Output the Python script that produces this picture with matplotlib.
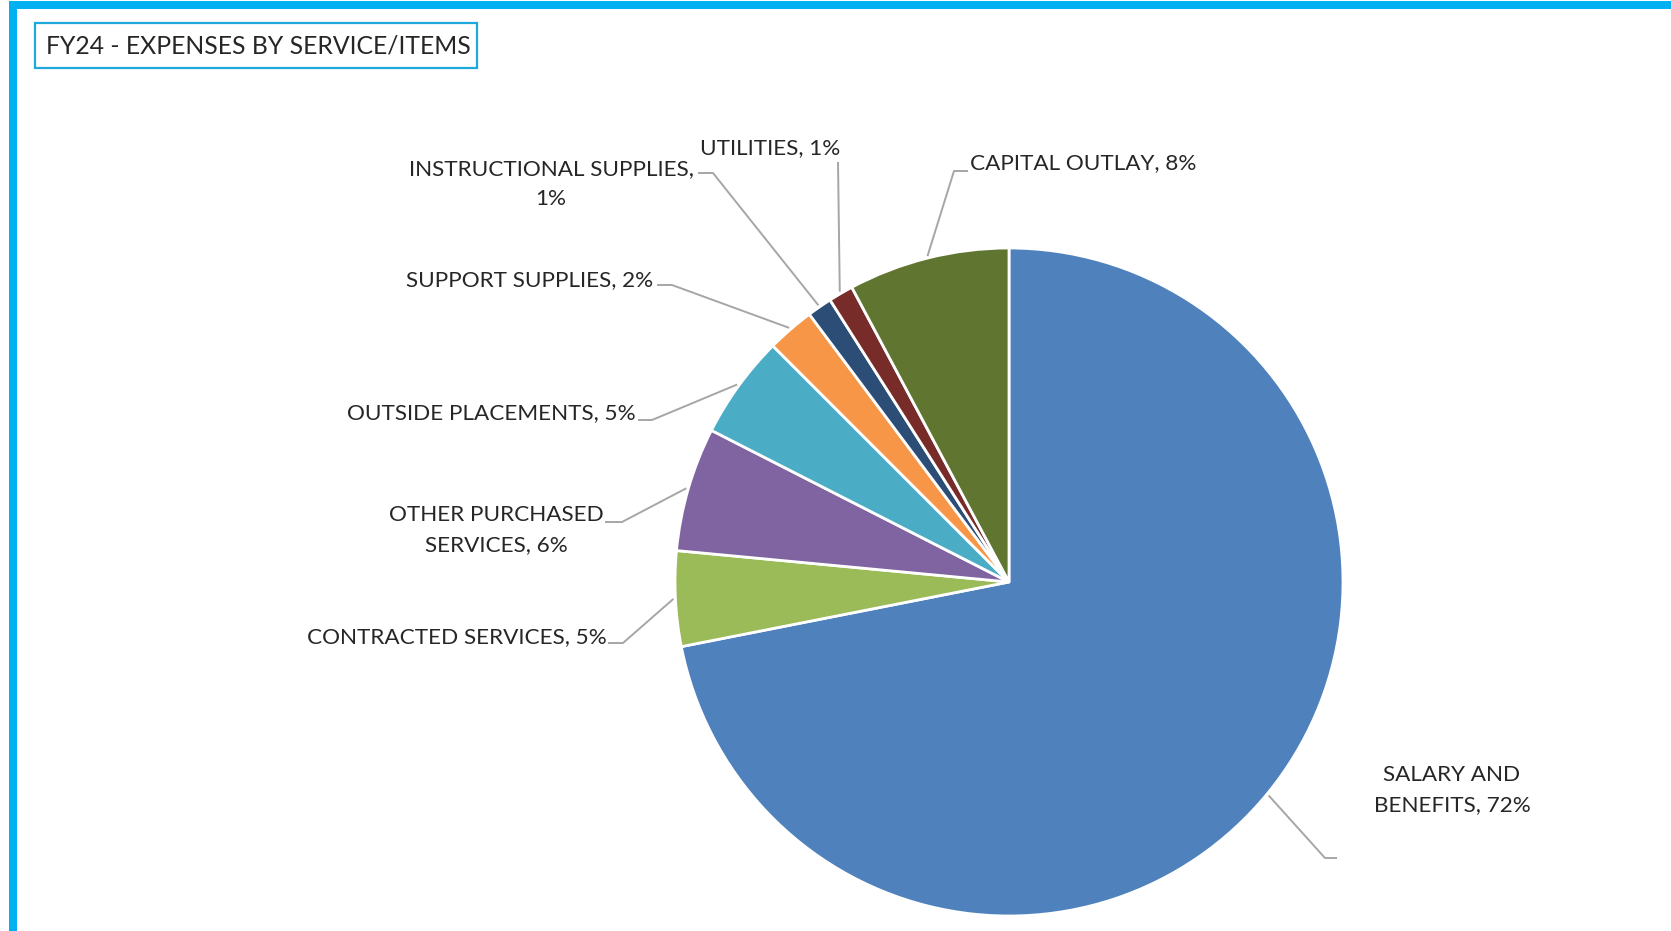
import numpy as np
import matplotlib
matplotlib.use("Agg")
import matplotlib.pyplot as plt
from matplotlib.patches import Rectangle

# ---------------- data ----------------
categories = ["SALARY AND\nBENEFITS", "CONTRACTED SERVICES", "OTHER PURCHASED\nSERVICES",
              "OUTSIDE PLACEMENTS", "SUPPORT SUPPLIES", "INSTRUCTIONAL SUPPLIES,\n",
              "UTILITIES", "CAPITAL OUTLAY"]
shares = [71.9, 4.6, 6.0, 5.0, 2.3, 1.2, 1.2, 7.8]
colors = ["#4F81BD", "#9BBB59", "#8064A2", "#4BACC6", "#F79646", "#2C4D75", "#772C2A", "#5F7530"]
title = "FY24 - EXPENSES BY SERVICE/ITEMS"

# ---------------- layout (pixel space, y measured downward) ----------------
W, H = 1671, 931
CX, CY, R = 1009, 582, 334
FONT = "Lato"
FS = 16.2
TXT = "#262626"
LEAD = "#A6A6A6"

def Y(y):
    return H - y

fig = plt.figure(figsize=(W / 100, H / 100), dpi=100)
fig.patch.set_facecolor("white")
ax = fig.add_axes([0, 0, 1, 1])

wedges, _ = ax.pie(shares, colors=colors, startangle=90, counterclock=False,
                   center=(CX, Y(CY)), radius=R,
                   wedgeprops=dict(edgecolor="white", linewidth=2.0))
ax.set_xlim(0, W)
ax.set_ylim(0, H)
ax.set_aspect("equal")
ax.axis("off")

def pct_text(v):
    return f"{int(v + 0.5)}%"

labels = []
for c, v in zip(categories, shares):
    if c.endswith(",\n"):
        labels.append(c + pct_text(v))
    else:
        labels.append(f"{c}, {pct_text(v)}")

# label placement: (x, y, ha), and leader elbow points
label_pos = [
    (1452, 790, "center"),
    (607, 637, "right"),
    (496, 530, "center"),
    (636, 413, "right"),
    (653, 280, "right"),
    (551, 184, "center"),
    (770, 148, "center"),
    (970, 163, "left"),
]
elbows = [
    [(1325, 858), (1337, 858)],
    [(623, 643), (608, 643)],
    [(622, 522), (605, 522)],
    [(652, 420), (638, 420)],
    [(672, 285), (657, 285)],
    [(713, 173), (698, 173)],
    [(838, 162)],
    [(954, 171), (968, 171)],
]

total = sum(shares)
cum = 0.0
for i, v in enumerate(shares):
    mid = cum + v / 2.0
    cum += v
    ang = np.deg2rad(90 - 360.0 * mid / total)
    sx = CX + (R + 2) * np.cos(ang)
    sy = CY - (R + 2) * np.sin(ang)
    pts = [(sx, sy)] + elbows[i]
    ax.plot([p[0] for p in pts], [Y(p[1]) for p in pts], color=LEAD, lw=1.4,
            solid_capstyle="butt", zorder=3)
    x, y, ha = label_pos[i]
    ax.text(x, Y(y), labels[i], ha=ha, va="center", multialignment="center",
            fontsize=FS, family=FONT, color=TXT, linespacing=1.62, zorder=4)

# title box
ax.add_patch(Rectangle((35, Y(68)), 442, 45, facecolor="white", edgecolor="#1FA8DC",
                       lw=1.6, zorder=5))
ax.text(46, Y(46), title, ha="left", va="center", fontsize=17.8, family=FONT,
        color=TXT, zorder=6)

# outer blue frame (left and top bars)
ax.add_patch(Rectangle((9, 0), 8, H - 1, facecolor="#00B0F0", edgecolor="none", zorder=7))
ax.add_patch(Rectangle((9, Y(9)), W - 9, 8, facecolor="#00B0F0", edgecolor="none", zorder=7))

fig.savefig("out.png", dpi=100, facecolor="white")
